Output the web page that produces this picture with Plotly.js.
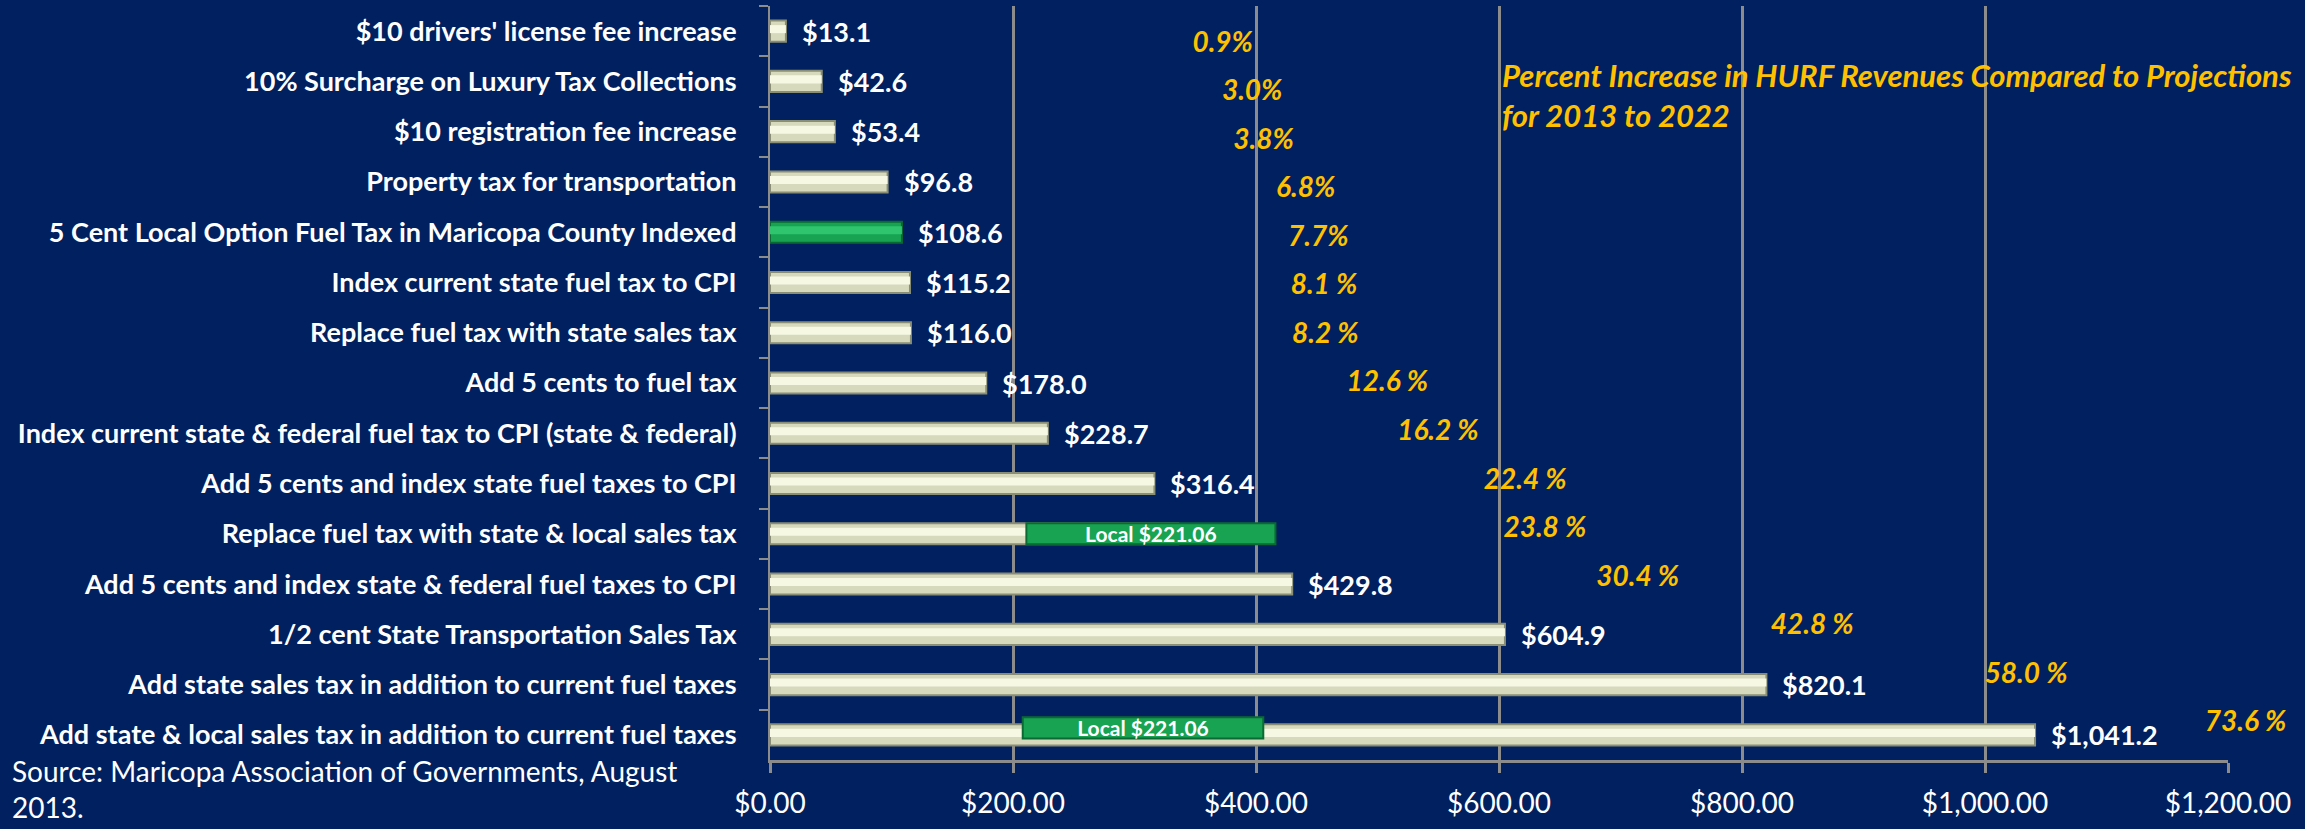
<!DOCTYPE html>
<html>
<head>
<meta charset="utf-8">
<script src="https://cdn.plot.ly/plotly-3.0.1.min.js"></script>
<style>
  html, body { margin: 0; padding: 0; background: #002060; }
  #chart { width: 2305px; height: 829px; }
</style>
</head>
<body>
<div id="chart"></div>
<script>
// ---------- DATA ----------
const categories = [
  "$10 drivers' license fee increase",
  "10% Surcharge on Luxury Tax Collections",
  "$10 registration fee increase",
  "Property tax for transportation",
  "5 Cent Local Option Fuel Tax in Maricopa County Indexed",
  "Index current state fuel tax to CPI",
  "Replace fuel tax with state sales tax",
  "Add 5 cents to fuel tax",
  "Index current state & federal fuel tax to CPI (state & federal)",
  "Add 5 cents and index state fuel taxes to CPI",
  "Replace fuel tax with state & local sales tax",
  "Add 5 cents and index state & federal fuel taxes to CPI",
  "1/2 cent State Transportation Sales Tax",
  "Add state sales tax in addition to current fuel taxes",
  "Add state & local sales tax in addition to current fuel taxes"
];
// Revenue (millions $), 2013-2022
const revenue = [13.1, 42.6, 53.4, 96.8, 108.6, 115.2, 116.0, 178.0, 228.7, 316.4, 336.0, 429.8, 604.9, 820.1, 1041.2];
// value label shown? (the label of the state & local replacement bar is hidden behind the local overlay)
const showValueLabel = [true, true, true, true, true, true, true, true, true, true, false, true, true, true, true];
// local-option highlighted option
const localOption = [false, false, false, false, true, false, false, false, false, false, false, false, false, false, false];

// Local sales tax overlay segments
const localCategories = [
  "Replace fuel tax with state & local sales tax",
  "Add state & local sales tax in addition to current fuel taxes"
];
const localStart = [211, 208];
const localEnd = [416, 406];
const localValue = [221.06, 221.06];

// Percent increase in HURF revenues compared to projections
const pctValues = [0.9, 3.0, 3.8, 6.8, 7.7, 8.1, 8.2, 12.6, 16.2, 22.4, 23.8, 30.4, 42.8, 58.0, 73.6];
const pctLabels = ["0.9%", "3.0%", "3.8%", "6.8%", "7.7%", "8.1 %", "8.2 %", "12.6 %", "16.2 %", "22.4 %", "23.8 %", "30.4 %", "42.8 %", "58.0 %", "73.6 %"];

const xTicks = [0, 200, 400, 600, 800, 1000, 1200];
const chartNote = "Percent Increase in HURF Revenues Compared to Projections<br>for 2013 to 2022";
const sourceNote = "Source: Maricopa Association of Governments, August<br>2013.";

// ---------- STYLE ----------
const BG = '#002060';
const GRID = '#8C8C8C';
const CREAM = '#D6D9BB', CREAM_LINE = '#8A8E74', CREAM_HI = '#F6F8E4';
const GREEN = '#17A352', GREEN_LINE = '#0B6A33', GREEN_HI = '#2FC46E';
const ORANGE = '#FFC000';
const FONT = 'Lato, "Open Sans", sans-serif';

// geometry (pixels)
const W = 2305, H = 829;
const ML = 770, MR = 20, MT = 6, MB = 69;
const plotRightPx = 2228;                 // right end of the $ axis
const plotW = W - ML - MR;
const mainDomainEnd = (plotRightPx - ML) / plotW;

const barColors = localOption.map(g => g ? GREEN : CREAM);
const barLines = localOption.map(g => g ? GREEN_LINE : CREAM_LINE);
const hiColors = localOption.map(g => g ? GREEN_HI : CREAM_HI);

const traces = [
  {
    type: 'bar', orientation: 'h',
    y: categories, x: revenue,
    width: 0.42,
    marker: { color: barColors, line: { color: barLines, width: 2 } },
    hoverinfo: 'skip'
  },
  {
    type: 'bar', orientation: 'h',
    y: categories, x: revenue,
    width: 0.16,
    offset: -0.12,
    marker: { color: hiColors, line: { width: 0 } },
    hoverinfo: 'skip'
  },
  {
    type: 'bar', orientation: 'h',
    y: localCategories,
    base: localStart,
    x: localEnd.map((e, i) => e - localStart[i]),
    customdata: localValue,
    width: 0.42,
    offset: [-0.21, -0.35],
    marker: { color: GREEN, line: { color: GREEN_LINE, width: 2 } },
    texttemplate: 'Local $%{customdata:.2f}',
    textposition: 'inside',
    insidetextanchor: 'middle',
    textangle: 0,
    textfont: { family: FONT, size: 21, color: '#FFFFFF', weight: 'bold' },
    constraintext: 'none',
    hoverinfo: 'skip'
  },
  {
    type: 'scatter', mode: 'text',
    xaxis: 'x2', yaxis: 'y2',
    x: pctValues,
    y: pctValues.map((_, i) => i),
    text: pctLabels,
    textposition: 'middle center',
    textfont: { family: FONT, size: 28, color: ORANGE, weight: 'bold', style: 'italic' },
    cliponaxis: false,
    hoverinfo: 'skip'
  }
];

const fmt = v => '$' + v.toLocaleString('en-US', { minimumFractionDigits: 1, maximumFractionDigits: 1 });
const valueAnnotations = categories.map((c, i) => ({
  x: revenue[i], y: c, xref: 'x', yref: 'y',
  text: showValueLabel[i] ? fmt(revenue[i]) : '',
  showarrow: false, xanchor: 'left', yanchor: 'middle', xshift: 14,
  font: { family: FONT, size: 27, color: '#FFFFFF', weight: 'bold' }
}));

// percent scale: 0 % sits at 1210 px, 14.07 px per percentage point
const pctLeft = (ML - 1210) / 14.07;
const pctRight = (W - MR - 1210) / 14.07;

const layout = {
  width: W, height: H,
  paper_bgcolor: BG, plot_bgcolor: 'rgba(0,0,0,0)',
  margin: { l: ML, r: MR, t: MT, b: MB, pad: 0 },
  showlegend: false,
  barmode: 'overlay',
  hovermode: false,
  xaxis: {
    domain: [0, mainDomainEnd],
    range: [0, 1200], tickvals: xTicks, tickformat: '$,.2f',
    showgrid: true, gridcolor: GRID, gridwidth: 3,
    showline: true, linecolor: GRID, linewidth: 3,
    ticks: 'outside', ticklen: 10, tickwidth: 3, tickcolor: GRID,
    zeroline: false,
    tickfont: { family: FONT, size: 28, color: '#FFFFFF' },
    ticklabelstandoff: 6
  },
  yaxis: {
    domain: [0, 1],
    type: 'category', categoryorder: 'array', categoryarray: categories,
    autorange: 'reversed',
    showgrid: false, zeroline: false,
    showline: true, linecolor: GRID, linewidth: 2,
    ticks: 'outside', tickson: 'boundaries', ticklen: 9, tickwidth: 2, tickcolor: GRID,
    tickfont: { family: FONT, size: 27, color: '#FFFFFF', weight: 'bold' },
    ticklabelstandoff: 26
  },
  xaxis2: { domain: [0, 1], anchor: 'y2', range: [pctLeft, pctRight], visible: false, fixedrange: true },
  yaxis2: { domain: [0, 1], anchor: 'x2', range: [14.74, -0.80], visible: false, fixedrange: true },
  annotations: valueAnnotations.concat([
    {
      xref: 'paper', yref: 'paper', x: (1500 - ML) / plotW, y: 0.937,
      xanchor: 'left', yanchor: 'top', align: 'left', showarrow: false,
      text: chartNote,
      font: { family: FONT, size: 31, color: ORANGE, weight: 'bold', style: 'italic' }
    },
    {
      xref: 'paper', yref: 'paper', x: (10 - ML) / plotW, y: 0.011,
      xanchor: 'left', yanchor: 'top', align: 'left', showarrow: false,
      text: sourceNote,
      font: { family: FONT, size: 28, color: '#FFFFFF' }
    }
  ])
};

Plotly.newPlot('chart', traces, layout, { staticPlot: true, displayModeBar: false });
</script>
</body>
</html>
